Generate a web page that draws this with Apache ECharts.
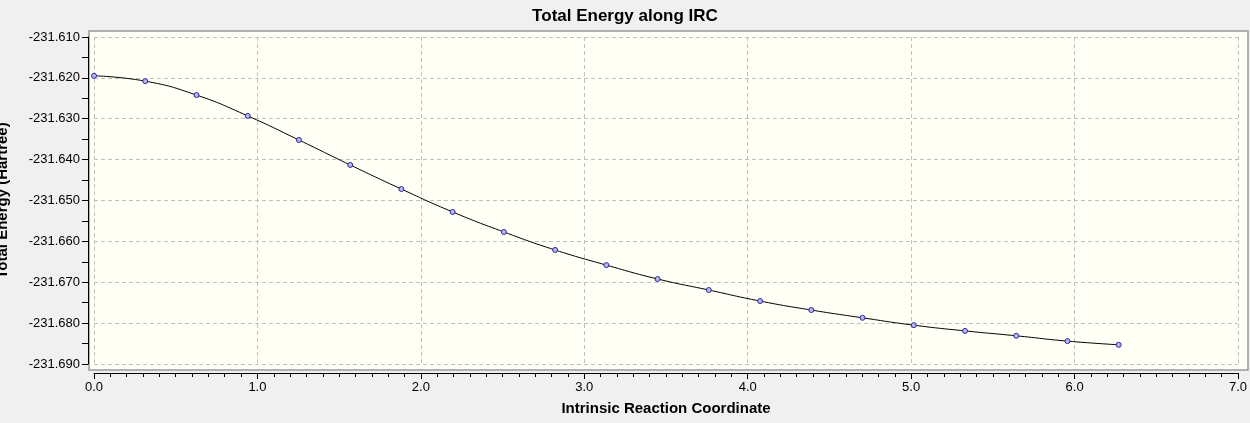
<!DOCTYPE html>
<html><head><meta charset="utf-8">
<script src="https://cdn.jsdelivr.net/npm/echarts@6/dist/echarts.min.js"></script>
<style>html,body{margin:0;background:#f0f0f0}#c{width:1250px;height:423px}</style>
</head><body><div id="c"></div>
<script>
var xs = [0, 0.3135, 0.627, 0.9405, 1.254, 1.5675, 1.881, 2.1945, 2.508, 2.8215, 3.135, 3.4485, 3.762, 4.0755, 4.389, 4.7025, 5.016, 5.3295, 5.643, 5.9565, 6.27];
var energies = [-231.6195, -231.6208, -231.6242, -231.6293, -231.6352, -231.6413, -231.6472, -231.6528, -231.6577, -231.6621, -231.6658, -231.6692, -231.6719, -231.6746, -231.6768, -231.6787, -231.6805, -231.6819, -231.6831, -231.6844, -231.6853];

var chart = echarts.init(document.getElementById("c"));
var font = "Liberation Sans, Arial, sans-serif";
chart.setOption({
  backgroundColor: "#f0f0f0",
  animation: false,
  title: {
    text: "Total Energy along IRC", left: "center", top: 3,
    textStyle: { fontFamily: font, fontSize: 17, fontWeight: "bold", color: "#000" }
  },
  graphic: [{
    type: "rect", z: -1, silent: true,
    shape: { x: 89, y: 31, width: 1159, height: 339 },
    style: { fill: "#fffff5", stroke: "#999", lineWidth: 1.5 }
  }],
  grid: { left: 94, right: 12, top: 37, bottom: 59, containLabel: false, outerBoundsMode: "none" },
  xAxis: {
    type: "value", min: 0, max: 7, interval: 1, offset: 9,
    name: "Intrinsic Reaction Coordinate", nameLocation: "middle", nameGap: 28,
    nameTextStyle: { fontFamily: font, fontSize: 15, fontWeight: "bold", color: "#000" },
    axisLine: { show: true, onZero: false, lineStyle: { color: "#000" } },
    axisTick: { show: true, length: 6, lineStyle: { color: "#000" } },
    minorTick: { show: true, splitNumber: 10, length: 4, lineStyle: { color: "#000" } },
    axisLabel: { fontFamily: font, fontSize: 13, color: "#000", margin: 8,
      formatter: function (v) { return v.toFixed(1); } },
    splitLine: { show: true, lineStyle: { color: "#c0c0c0", type: [4, 3] } }
  },
  yAxis: {
    type: "value", min: -231.69, max: -231.61, interval: 0.01, offset: 6,
    name: "Total Energy (Hartree)", nameLocation: "middle", nameGap: 78, nameRotate: 90,
    nameTextStyle: { fontFamily: font, fontSize: 15, fontWeight: "bold", color: "#000" },
    axisLine: { show: true, onZero: false, lineStyle: { color: "#000" } },
    axisTick: { show: true, length: 6, lineStyle: { color: "#000" } },
    minorTick: { show: true, splitNumber: 2, length: 6, lineStyle: { color: "#000" } },
    axisLabel: { fontFamily: font, fontSize: 13, color: "#000", margin: 8,
      formatter: function (v) { return v.toFixed(3); } },
    splitLine: { show: true, lineStyle: { color: "#c0c0c0", type: [4, 3] } }
  },
  series: [{
    type: "line", smooth: true,
    data: xs.map(function (x, i) { return [x, energies[i]]; }),
    symbol: "circle", symbolSize: 5,
    lineStyle: { color: "#000", width: 1 },
    itemStyle: { color: "#b8b8ec", borderColor: "#2a2aa0", borderWidth: 1 }
  }]
});
</script></body></html>
